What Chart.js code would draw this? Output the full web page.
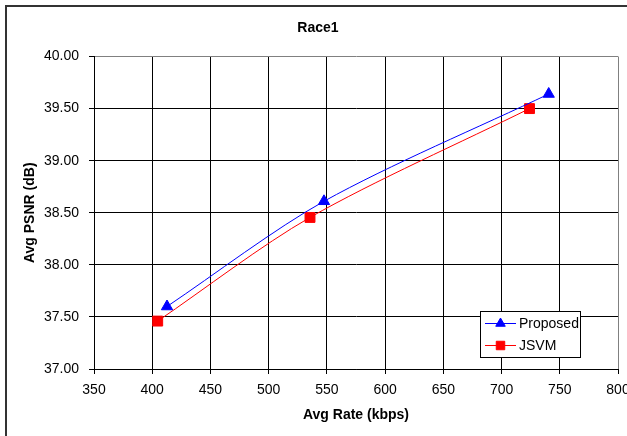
<!DOCTYPE html>
<html>
<head>
<meta charset="utf-8">
<script src="https://cdn.jsdelivr.net/npm/chart.js@4"></script>
<style>
  html, body { margin: 0; padding: 0; background: #fff; }
  #wrap { width: 627px; height: 436px; }
</style>
</head>
<body>
<div id="wrap"><canvas id="rdChart" width="627" height="436"></canvas></div>
<script>
// Race1 - rate / PSNR points
var seriesNames = ['Proposed', 'JSVM'];
var rateProposed = [412.7, 547.5, 740.5];
var psnrProposed = [37.60, 38.61, 39.64];
var rateJsvm = [404.7, 535.5, 724.0];
var psnrJsvm = [37.46, 38.455, 39.50];
var xTicks = [350, 400, 450, 500, 550, 600, 650, 700, 750, 800];
var yTicks = [37.00, 37.50, 38.00, 38.50, 39.00, 39.50, 40.00];

function toPoints(xs, ys) {
    return xs.map(function (x, i) { return { x: x, y: ys[i] }; });
}

var FONT = 'Arial, "Liberation Sans", sans-serif';

// border round the whole chart + legend box inside the plot
var frameAndLegend = {
    id: 'frameAndLegend',
    beforeDraw: function (chart) {
        var ctx = chart.ctx;
        ctx.save();
        ctx.fillStyle = '#fff';
        ctx.fillRect(0, 0, chart.width, chart.height);
        ctx.strokeStyle = '#333';
        ctx.lineWidth = 2;
        ctx.strokeRect(6, 6, 700, 500);
        ctx.restore();
    },
    afterDraw: function (chart) {
        var ctx = chart.ctx;
        ctx.save();
        ctx.fillStyle = '#fff';
        ctx.fillRect(480.5, 311.5, 100, 46);
        ctx.strokeStyle = '#000';
        ctx.lineWidth = 1;
        ctx.strokeRect(480.5, 311.5, 100, 46);
        var rows = [323.5, 345.5];
        chart.data.datasets.forEach(function (ds, i) {
            var y = rows[i];
            ctx.strokeStyle = ds.borderColor;
            ctx.lineWidth = 1;
            ctx.beginPath();
            ctx.moveTo(485, y);
            ctx.lineTo(516, y);
            ctx.stroke();
            ctx.fillStyle = ds.pointBackgroundColor;
            ctx.strokeStyle = ds.pointBorderColor;
            Chart.helpers.drawPoint(ctx, {
                pointStyle: ds.pointStyle,
                radius: ds.pointStyle === 'triangle' ? 5.5 : 6,
                rotation: 0,
                borderWidth: 1
            }, 500.5, y);
            ctx.fillStyle = '#000';
            ctx.font = '14px ' + FONT;
            ctx.textAlign = 'left';
            ctx.textBaseline = 'middle';
            ctx.fillText(ds.label, 519, y + 0.5);
        });
        ctx.restore();
    }
};

var ctx = document.getElementById('rdChart').getContext('2d');
var myChart = new Chart(ctx, {
    type: 'scatter',
    data: {
        datasets: [{
            label: seriesNames[0],
            data: toPoints(rateProposed, psnrProposed),
            showLine: true,
            tension: 0.3,
            borderColor: '#0000ff',
            borderWidth: 1,
            pointStyle: 'triangle',
            pointRadius: 6.5,
            pointHoverRadius: 6.5,
            pointBackgroundColor: '#0000ff',
            pointBorderColor: '#0000ff',
            pointBorderWidth: 1
        }, {
            label: seriesNames[1],
            data: toPoints(rateJsvm, psnrJsvm),
            showLine: true,
            tension: 0.3,
            borderColor: '#ff0000',
            borderWidth: 1,
            pointStyle: 'rect',
            pointRadius: 7,
            pointHoverRadius: 7,
            pointBackgroundColor: '#ff0000',
            pointBorderColor: '#ff0000',
            pointBorderWidth: 1
        }]
    },
    options: {
        responsive: false,
        animation: false,
        events: [],
        layout: { padding: { left: 9, right: 0, top: 0, bottom: 0 } },
        plugins: {
            legend: { display: false },
            tooltip: { enabled: false },
            title: {
                display: true,
                text: 'Race1',
                color: '#000',
                font: { family: FONT, size: 14, weight: 'bold' },
                padding: { top: 19.3, bottom: 20.4 }
            }
        },
        scales: {
            x: {
                type: 'linear',
                min: xTicks[0],
                max: xTicks[xTicks.length - 1],
                afterBuildTicks: function (scale) {
                    scale.ticks = xTicks.map(function (v) { return { value: v }; });
                },
                afterFit: function (scale) {
                    scale.height = 67;
                    scale.paddingLeft = 0;
                    scale.paddingRight = 9;
                },
                ticks: {
                    color: '#000',
                    font: { family: FONT, size: 14 },
                    padding: 8,
                    maxRotation: 0,
                    autoSkip: false
                },
                grid: {
                    color: function (c) { return c.tick && c.tick.value === 800 ? '#808080' : '#000'; },
                    tickColor: '#000',
                    tickLength: 5,
                    lineWidth: 1
                },
                border: { color: '#000', width: 1 },
                title: {
                    display: true,
                    text: 'Avg Rate (kbps)',
                    color: '#000',
                    font: { family: FONT, size: 14, weight: 'bold' },
                    padding: { top: 0, bottom: 12.8 }
                }
            },
            y: {
                type: 'linear',
                min: yTicks[0],
                max: yTicks[yTicks.length - 1],
                afterBuildTicks: function (scale) {
                    scale.ticks = yTicks.map(function (v) { return { value: v }; });
                },
                afterFit: function (scale) {
                    scale.width = 85;
                },
                ticks: {
                    color: '#000',
                    font: { family: FONT, size: 14 },
                    padding: 10,
                    callback: function (v) { return Number(v).toFixed(2); }
                },
                grid: {
                    color: function (c) { return c.tick && c.tick.value === 40 ? '#808080' : '#000'; },
                    tickColor: '#000',
                    tickLength: 5,
                    lineWidth: 1
                },
                border: { color: '#000', width: 1 },
                title: {
                    display: true,
                    text: 'Avg PSNR (dB)',
                    color: '#000',
                    font: { family: FONT, size: 14, weight: 'bold' },
                    padding: { top: 12.6, bottom: 0 }
                }
            }
        }
    },
    plugins: [frameAndLegend]
});
</script>
</body>
</html>
